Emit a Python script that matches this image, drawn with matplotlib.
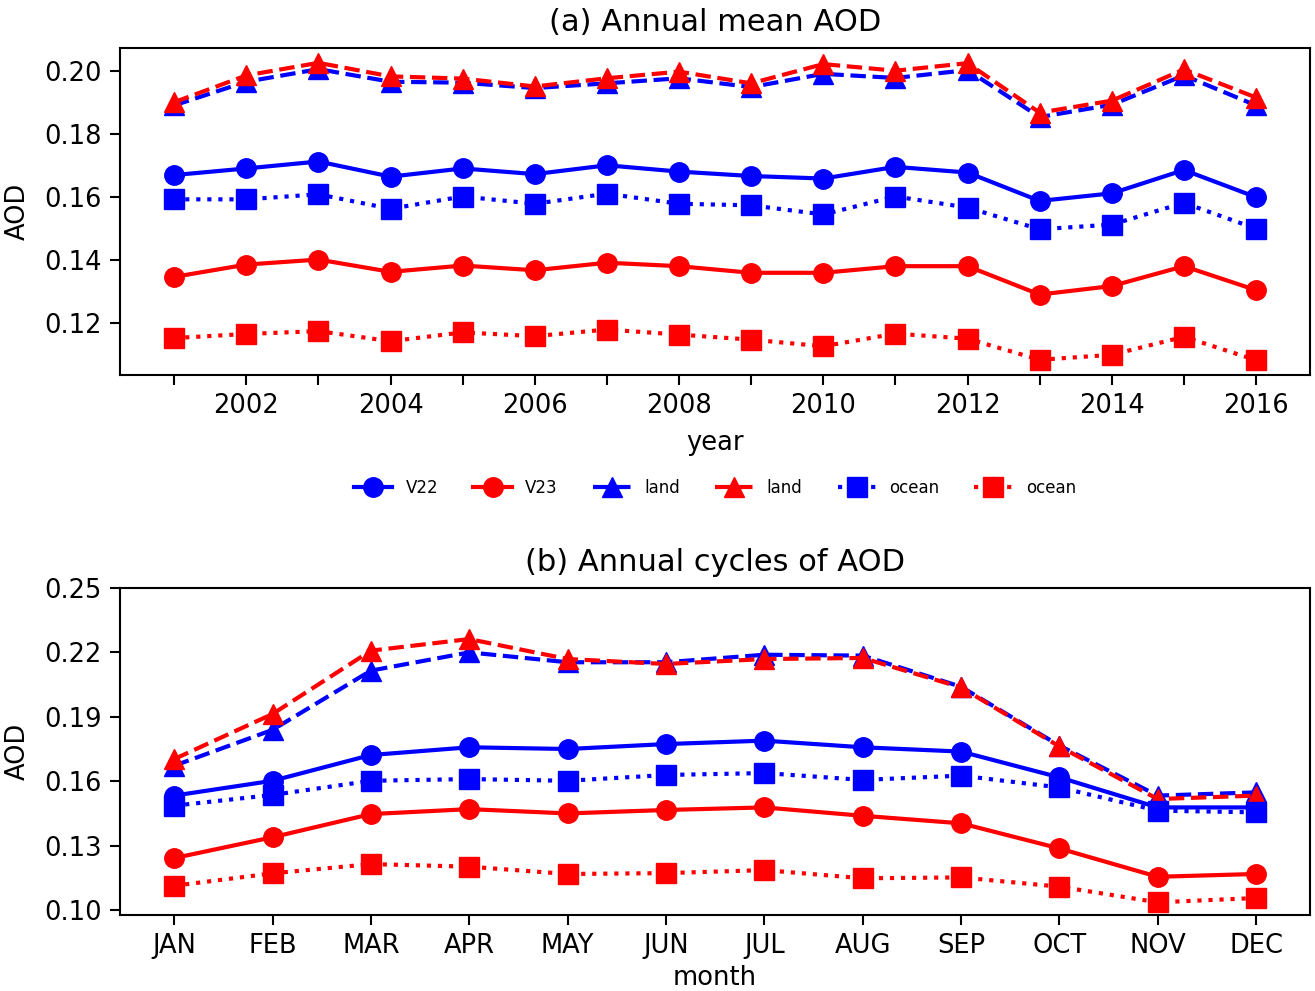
import matplotlib
matplotlib.use("Agg")
import matplotlib.pyplot as plt

# annual means 2001-2016
years = list(range(2001, 2017))
v22_year = [0.1669, 0.1690, 0.1712, 0.1664, 0.1690, 0.1672, 0.1700, 0.1680,
            0.1666, 0.1658, 0.1695, 0.1677, 0.1587, 0.1611, 0.1685, 0.1599]
v23_year = [0.1346, 0.1385, 0.1401, 0.1362, 0.1382, 0.1367, 0.1391, 0.1380,
            0.1359, 0.1359, 0.1380, 0.1380, 0.1290, 0.1317, 0.1380, 0.1304]
v22_land_year = [0.1890, 0.1965, 0.2005, 0.1965, 0.1962, 0.1945, 0.1960, 0.1976,
                 0.1948, 0.1990, 0.1977, 0.2002, 0.1853, 0.1892, 0.1985, 0.1890]
v23_land_year = [0.1900, 0.1985, 0.2025, 0.1982, 0.1975, 0.1950, 0.1976, 0.1997,
                 0.1960, 0.2021, 0.2000, 0.2024, 0.1867, 0.1905, 0.2004, 0.1915]
v22_ocean_year = [0.1592, 0.1592, 0.1608, 0.1562, 0.1601, 0.1578, 0.1610, 0.1578,
                  0.1573, 0.1544, 0.1601, 0.1566, 0.1497, 0.1512, 0.1581, 0.1499]
v23_ocean_year = [0.1152, 0.1165, 0.1174, 0.1142, 0.1170, 0.1158, 0.1179, 0.1163,
                  0.1147, 0.1126, 0.1166, 0.1150, 0.1083, 0.1099, 0.1156, 0.1082]

# annual cycles
months = ["JAN", "FEB", "MAR", "APR", "MAY", "JUN",
          "JUL", "AUG", "SEP", "OCT", "NOV", "DEC"]
v22_mon = [0.1533, 0.1602, 0.1722, 0.1758, 0.1750, 0.1773,
           0.1789, 0.1758, 0.1738, 0.1618, 0.1478, 0.1478]
v23_mon = [0.1242, 0.1339, 0.1447, 0.1470, 0.1450, 0.1466,
           0.1478, 0.1439, 0.1404, 0.1287, 0.1155, 0.1168]
v22_land_mon = [0.1672, 0.1839, 0.2115, 0.2200, 0.2154, 0.2154,
                0.2189, 0.2185, 0.2040, 0.1766, 0.1533, 0.1548]
v23_land_mon = [0.1703, 0.1913, 0.2208, 0.2262, 0.2169, 0.2146,
                0.2169, 0.2174, 0.2037, 0.1762, 0.1517, 0.1533]
v22_ocean_mon = [0.1486, 0.1536, 0.1602, 0.1610, 0.1602, 0.1629,
                 0.1638, 0.1606, 0.1626, 0.1571, 0.1463, 0.1455]
v23_ocean_mon = [0.1113, 0.1171, 0.1214, 0.1202, 0.1168, 0.1172,
                 0.1186, 0.1148, 0.1152, 0.1109, 0.1036, 0.1056]

lw = 3
ms = 14
fs = 18.5


def draw(ax, x, v22, v23, l22, l23, o22, o23):
    ax.plot(x, v22, "b-o", lw=lw, ms=ms, label="V22")
    ax.plot(x, v23, "r-o", lw=lw, ms=ms, label="V23")
    ax.plot(x, l22, "b--^", lw=lw, ms=ms + 1, label="land")
    ax.plot(x, l23, "r--^", lw=lw, ms=ms + 1, label="land")
    ax.plot(x, o22, "b:s", lw=lw, ms=ms, label="ocean")
    ax.plot(x, o23, "r:s", lw=lw, ms=ms, label="ocean")
    for s in ax.spines.values():
        s.set_linewidth(1.5)
    ax.tick_params(labelsize=fs, length=7, width=1.5, pad=6)


fig = plt.figure(figsize=(13.15, 9.91), dpi=100)

ax1 = fig.add_axes([0.0913, 0.6216, 0.905, 0.330])
draw(ax1, years, v22_year, v23_year, v22_land_year, v23_land_year,
     v22_ocean_year, v23_ocean_year)
ax1.set_xticks(years)
ax1.set_xticklabels([str(y) if y % 2 == 0 else "" for y in years])
ax1.set_yticks([0.12, 0.14, 0.16, 0.18, 0.20])
ax1.set_yticklabels(["0.12", "0.14", "0.16", "0.18", "0.20"])
ax1.set_xlabel("year", fontsize=fs, labelpad=8)
ax1.set_ylabel("AOD", fontsize=fs, labelpad=10)
ax1.set_title("(a) Annual mean AOD", fontsize=22, pad=12)
ax1.legend(ncol=6, loc="center", bbox_to_anchor=(0.5, -0.345),
           frameon=False, fontsize=12, handlelength=2.3, handletextpad=0.8,
           columnspacing=2.1)

ax2 = fig.add_axes([0.0913, 0.0767, 0.905, 0.330])
xm = list(range(len(months)))
draw(ax2, xm, v22_mon, v23_mon, v22_land_mon, v23_land_mon,
     v22_ocean_mon, v23_ocean_mon)
ax2.set_xticks(xm)
ax2.set_xticklabels(months)
ax2.set_ylim(0.0977, 0.25)
ax2.set_yticks([0.10, 0.13, 0.16, 0.19, 0.22, 0.25])
ax2.set_yticklabels(["0.10", "0.13", "0.16", "0.19", "0.22", "0.25"])
ax2.set_xlabel("month", fontsize=fs, labelpad=4)
ax2.set_ylabel("AOD", fontsize=fs, labelpad=10)
ax2.set_title("(b) Annual cycles of AOD", fontsize=22, pad=12)

fig.savefig("out.png", dpi=100)
